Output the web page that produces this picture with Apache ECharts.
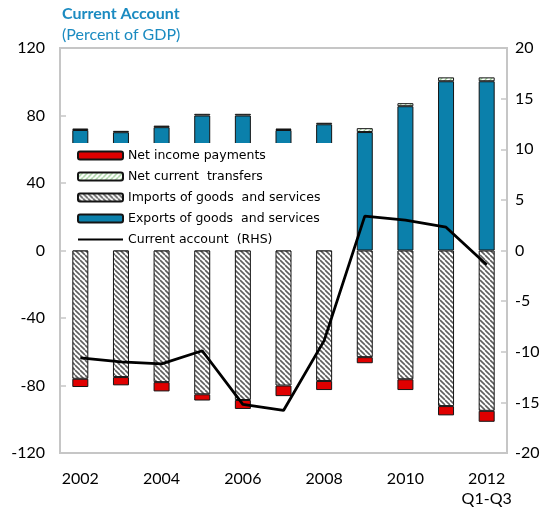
<!DOCTYPE html>
<html>
<head>
<meta charset="utf-8">
<script src="https://cdn.jsdelivr.net/npm/echarts@6/dist/echarts.min.js"></script>
<style>
  html, body { margin: 0; padding: 0; background: #fff; }
  #chart { width: 554px; height: 510px; }
</style>
</head>
<body>
<div id="chart"></div>
<script>
// Years on the category axis
const years = ['2002', '2003', '2004', '2005', '2006', '2007', '2008', '2009', '2010', '2011', '2012'];

// Components of the current account, percent of GDP (left axis)
const exportsGS = [71.4, 70.1, 73.1, 80.0, 80.0, 71.4, 74.8, 70.2, 85.5, 100.3, 100.3];
const transfers = [0.9, 0.8, 0.9, 1.0, 1.0, 0.9, 0.9, 2.3, 1.8, 2.3, 2.3];
const importsGS = [-76.0, -75.0, -78.0, -85.2, -88.6, -80.0, -77.3, -63.2, -76.3, -92.2, -95.0];
const incomePay = [-4.9, -4.9, -5.5, -3.7, -5.3, -6.3, -5.4, -3.6, -6.4, -5.5, -6.5];

// Current account balance, percent of GDP (right axis)
const currentAccount = [-10.6, -11.0, -11.2, -9.9, -15.2, -15.8, -8.9, 3.4, 3.0, 2.3, -1.4];

// Axis tick settings
const leftTicks = { min: -120, max: 120, interval: 40 };
const rightTicks = { min: -20, max: 20, interval: 5 };

const FONT = 'Lato';
const LEGEND_FONT = 'DejaVu Sans';
const TITLE_BLUE = '#1b8bc1';

// Diagonal hatch tiles drawn onto small canvases
function hatch(stroke, bg, dir, size, lw) {
  const c = document.createElement('canvas');
  c.width = size; c.height = size;
  const g = c.getContext('2d');
  g.fillStyle = bg; g.fillRect(0, 0, size, size);
  g.strokeStyle = stroke; g.lineWidth = lw;
  g.beginPath();
  if (dir === 'back') {
    for (let k = -1; k <= 1; k++) {
      g.moveTo(k * size, 0); g.lineTo(k * size + size, size);
    }
  } else {
    for (let k = -1; k <= 1; k++) {
      g.moveTo(k * size, size); g.lineTo(k * size + size, 0);
    }
  }
  g.stroke();
  return { image: c, repeat: 'repeat' };
}

const importsFill = hatch('#5e5e5e', '#ffffff', 'back', 5, 1.6);
const transfersFill = hatch('#9fd39a', '#ffffff', 'fwd', 5, 1.4);

const chart = echarts.init(document.getElementById('chart'), null, { renderer: 'canvas' });

const barBorder = { borderColor: '#141414', borderWidth: 1 };

chart.setOption({
  animation: false,
  title: [
    { text: 'Current Account', left: 62, top: 6, padding: 0,
      textStyle: { fontFamily: FONT, fontSize: 16, fontWeight: 'bold', color: TITLE_BLUE } },
    { text: '(Percent of GDP)', left: 62, top: 27, padding: 0,
      textStyle: { fontFamily: FONT, fontSize: 16, fontWeight: 'normal', color: TITLE_BLUE } }
  ],
  grid: { left: 60, right: 47, top: 48, bottom: 57, show: true, borderColor: '#c6c6c6', borderWidth: 2, backgroundColor: 'transparent' },
  legend: {
    orient: 'vertical', left: 68, top: 143,
    padding: [6, 14, 4, 9],
    backgroundColor: '#ffffff',
    itemWidth: 45, itemHeight: 8, itemGap: 8,
    textStyle: { fontFamily: LEGEND_FONT, fontSize: 12.5, color: '#000' },
    data: [
      'Net income payments',
      'Net current  transfers',
      'Imports of goods  and services',
      'Exports of goods  and services',
      { name: 'Current account  (RHS)', itemStyle: { color: 'rgba(0,0,0,0)', borderColor: 'rgba(0,0,0,0)', borderWidth: 0 } }
    ]
  },
  xAxis: {
    type: 'category', data: years, boundaryGap: true,
    axisLine: { show: false, onZero: false }, axisTick: { show: false },
    axisLabel: {
      interval: 1, margin: 16, fontFamily: FONT, fontSize: 16, color: '#000', lineHeight: 20,
      formatter: v => v === '2012' ? '2012\nQ1-Q3' : v
    }
  },
  yAxis: [
    {
      type: 'value', min: leftTicks.min, max: leftTicks.max, interval: leftTicks.interval,
      splitLine: { show: false }, axisLine: { show: false },
      axisTick: { show: true, inside: true, length: 6, lineStyle: { color: '#c6c6c6', width: 1.5 } },
      axisLabel: { margin: 15, fontFamily: FONT, fontSize: 16, color: '#000' }
    },
    {
      type: 'value', min: rightTicks.min, max: rightTicks.max, interval: rightTicks.interval,
      splitLine: { show: false }, axisLine: { show: false },
      axisTick: { show: true, inside: true, length: 6, lineStyle: { color: '#c6c6c6', width: 1.5 } },
      axisLabel: { margin: 8, fontFamily: FONT, fontSize: 16, color: '#000' }
    }
  ],
  series: [
    { name: 'Exports of goods  and services', type: 'bar', stack: 'ca', barWidth: 16,
      itemStyle: Object.assign({ color: '#0b80ab' }, barBorder), data: exportsGS },
    { name: 'Net current  transfers', type: 'bar', stack: 'ca', barWidth: 16,
      itemStyle: Object.assign({ color: transfersFill }, barBorder), data: transfers },
    { name: 'Imports of goods  and services', type: 'bar', stack: 'ca', barWidth: 16,
      itemStyle: Object.assign({ color: importsFill }, barBorder), data: importsGS },
    { name: 'Net income payments', type: 'bar', stack: 'ca', barWidth: 16,
      itemStyle: Object.assign({ color: '#e00000' }, barBorder), data: incomePay },
    { name: 'Current account  (RHS)', type: 'line', yAxisIndex: 1, symbol: 'none', z: 3,
      lineStyle: { color: '#000', width: 2.8 }, itemStyle: { color: '#000' }, data: currentAccount }
  ]
});
</script>
</body>
</html>
